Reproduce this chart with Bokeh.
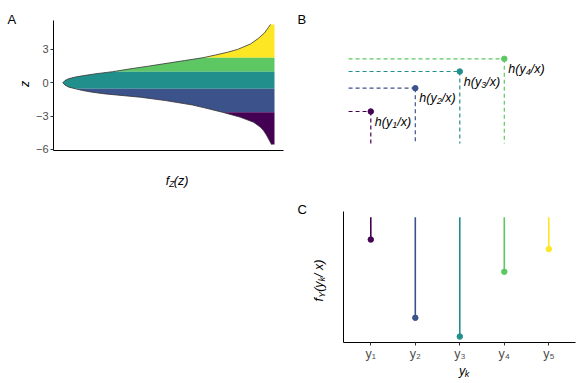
from bokeh.plotting import figure
from bokeh.layouts import column, row
from bokeh.models import Range1d, FixedTicker, ColumnDataSource, Spacer
from bokeh.embed import file_html
from bokeh.resources import INLINE
from bokeh.core.properties import value

FONT = "Liberation Sans"

# ---------------- data ----------------
# Panel A: latent density f_Z(z) (z, relative density)
z_vals = [5.25, 5.0, 4.5, 4.0, 3.5, 3.0, 2.75, 2.5, 2.25, 2.0, 1.71, 1.5, 1.26, 1.0,
          0.8, 0.63, 0.5, 0.36, 0.2, 0.0, -0.2, -0.39, -0.54, -0.69, -0.85, -1.0,
          -1.3, -1.6, -2.0, -2.25, -2.65, -3.1, -3.55, -4.0, -4.3, -4.7, -5.06, -5.3, -5.56]
dens = [0.019, 0.028, 0.047, 0.076, 0.113, 0.175, 0.222, 0.279, 0.340, 0.425, 0.524,
        0.595, 0.680, 0.765, 0.850, 0.907, 0.945, 0.973, 0.990, 1.000, 0.990, 0.971,
        0.940, 0.907, 0.860, 0.799, 0.633, 0.515, 0.387, 0.331, 0.246, 0.161, 0.099,
        0.066, 0.052, 0.038, 0.028, 0.021, 0.014]
cuts = [2.25, 1.0, -0.54, -2.65]
band_colors = ["#FDE725", "#5DC863", "#21908C", "#3B528B", "#440154"]
a_ticks = [-6, -3, 0, 3]

# Panel B: cumulative h(y_k / x)
b_k = [1, 2, 3, 4]
b_h = [0.32, 0.553, 0.72, 0.847]
b_sub = ["1", "2", "3", "4"]
b_colors = ["#440154", "#3B528B", "#21908C", "#5DC863"]

# Panel C: category probabilities f_Y(y_k / x)
c_k = [1, 2, 3, 4, 5]
c_p = [0.068, 0.306, 0.363, 0.166, 0.097]
c_ticklabels = ["y\u2081", "y\u2082", "y\u2083", "y\u2084", "y\u2085"]
c_colors = ["#440154", "#3B528B", "#21908C", "#5DC863", "#FDE725"]

ROT = 1.5708
MAIN = 12.5
SUB = 9


def style(p):
    p.grid.visible = False
    p.outline_line_color = None
    p.background_fill_color = "white"
    p.border_fill_color = "white"


def axis_style(ax, size="11px"):
    ax.axis_line_color = "black"
    ax.axis_line_width = 1
    ax.major_tick_line_color = "#333333"
    ax.major_tick_out = 3
    ax.major_tick_in = 0
    ax.minor_tick_line_color = None
    ax.major_label_text_color = "#4D4D4D"
    ax.major_label_text_font = FONT
    ax.major_label_text_font_size = size
    ax.major_label_standoff = 2


def strip(x0, y0, w, h):
    """A text-only panel whose data units are page pixels (y down)."""
    s = figure(width=w, height=h, output_backend="svg", toolbar_location=None, title=None,
               x_range=Range1d(x0, x0 + w), y_range=Range1d(y0 + h, y0),
               x_axis_type=None, y_axis_type=None, min_border=0)
    style(s)
    return s


def txt(p, x, y, t, size, italic=False, angle=0.0, align="left", baseline="alphabetic"):
    p.text(x=[x], y=[y], text=[t], text_font=value(FONT), text_font_size=f"{size}px",
           text_font_style="italic" if italic else "normal", angle=angle,
           text_align=align, text_baseline=baseline, text_color="black")


# ---------------- Panel A ----------------
pA = figure(width=260, height=170, output_backend="svg", toolbar_location=None,
            title=None, x_range=Range1d(1.0439, -0.0425), y_range=Range1d(-6.093, 5.607),
            min_border_left=23, min_border_right=7, min_border_top=20, min_border_bottom=20)
style(pA)
edges = [max(z_vals) + 1] + cuts + [min(z_vals) - 1]
for i, col in enumerate(band_colors):
    hi, lo = edges[i], edges[i + 1]
    idx = [j for j, z in enumerate(z_vals) if lo <= z <= hi]
    zz = [z_vals[j] for j in idx]
    ff = [dens[j] for j in idx]
    pA.harea(y=zz, x1=ff, x2=[0] * len(zz), fill_color=col)
pA.line(x=dens, y=z_vals, line_color="#333333", line_width=0.8)
for ax in pA.yaxis:
    axis_style(ax)
    ax.ticker = FixedTicker(ticks=a_ticks)
    ax.major_label_overrides = {t: (str(t) if t >= 0 else "\u2212" + str(-t)) for t in a_ticks}
for ax in pA.xaxis:
    axis_style(ax)
    ax.ticker = FixedTicker(ticks=[])

sA_left = strip(0, 0, 30, 190)
txt(sA_left, 7, 18.5, "A", 13)
txt(sA_left, 24, 86.5, "z", MAIN, italic=True, angle=ROT)

sA_bot = strip(30, 170, 260, 20)
txt(sA_bot, 157, 180.2, "f", MAIN, italic=True)
txt(sA_bot, 160.5, 183, "Z", SUB, italic=True)
txt(sA_bot, 166, 180.2, "(z)", MAIN, italic=True)

# ---------------- Panel B ----------------
bx0, bdx = 325.8, 44.5   # page x of k=0, pixels per category
by0, bdy = 143.0, 100.0  # page y of h=0, pixels per unit
pB = figure(width=291, height=190, output_backend="svg", toolbar_location=None,
            title=None,
            x_range=Range1d((290 - bx0) / bdx, (581 - bx0) / bdx),
            y_range=Range1d((by0 - 190) / bdy, (by0 - 0) / bdy),
            x_axis_type=None, y_axis_type=None, min_border=0)
style(pB)
srcB = ColumnDataSource(dict(k=b_k, h=b_h, sub=b_sub, col=b_colors,
                             pre=["h(y"] * len(b_k), post=["/x)"] * len(b_k),
                             k0=[0.5] * len(b_k), h0=[0] * len(b_k)))
pB.segment(x0="k0", y0="h", x1="k", y1="h", source=srcB, line_color="col",
           line_width=1.2, line_dash="4 3")
pB.segment(x0="k", y0="h", x1="k", y1="h0", source=srcB, line_color="col",
           line_width=1.2, line_dash="4 3")
pB.scatter(x="k", y="h", source=srcB, size=5.5, fill_color="col", line_color="col")
w_pre = (0.556 + 0.333 + 0.5) * MAIN
w_sub = 0.556 * SUB
for field, size, dx, dy in (("pre", MAIN, 4, 10), ("sub", SUB, 4 + w_pre, 13),
                            ("post", MAIN, 4 + w_pre + w_sub, 10)):
    pB.text(x="k", y="h", text=field, source=srcB, text_font=value(FONT),
            text_font_style="italic", text_font_size=f"{size}px",
            text_baseline="alphabetic", x_offset=dx, y_offset=dy, text_color="black")
txt(pB, (297 - bx0) / bdx, (by0 - 18.5) / bdy, "B", 13)

# ---------------- Panel C ----------------
pC = figure(width=251, height=175, output_backend="svg", toolbar_location=None,
            title=None, x_range=Range1d(0.3865, 5.600), y_range=Range1d(0.3811, -0.01734),
            min_border_left=13, min_border_right=6, min_border_top=21, min_border_bottom=23)
style(pC)
srcC = ColumnDataSource(dict(k=c_k, p=c_p, col=c_colors, z=[0] * len(c_k)))
pC.segment(x0="k", y0="z", x1="k", y1="p", source=srcC, line_color="col", line_width=1.6)
pC.scatter(x="k", y="p", source=srcC, size=5.5, fill_color="col", line_color="col")
for ax in pC.xaxis:
    axis_style(ax, size="12.5px")
    ax.ticker = FixedTicker(ticks=c_k)
    ax.major_label_overrides = {k: t for k, t in zip(c_k, c_ticklabels)}
    ax.major_label_standoff = 1
for ax in pC.yaxis:
    axis_style(ax)
    ax.ticker = FixedTicker(ticks=[])

sC_left = strip(290, 190, 40, 193)
txt(sC_left, 297, 209.3, "C", 13)
txt(sC_left, 318.5, 301, "f", MAIN, italic=True, angle=ROT)
txt(sC_left, 321.5, 297.3, "Y", SUB, italic=True, angle=ROT)
txt(sC_left, 318.5, 291.3, "(y", MAIN, italic=True, angle=ROT)
txt(sC_left, 321.5, 280.9, "k", SUB, italic=True, angle=ROT)
txt(sC_left, 318.5, 276.4, " / x)", MAIN, italic=True, angle=ROT)

sC_bot = strip(330, 365, 251, 18)
txt(sC_bot, 455, 370.5, "y", MAIN, italic=True)
txt(sC_bot, 461.3, 373.2, "k", SUB, italic=True)

blockA = row(sA_left, column(pA, sA_bot))
blockC = row(sC_left, column(pC, sC_bot))
layout = row(column(blockA, Spacer(width=290, height=193)), column(pB, blockC))

open("out.html", "w").write(file_html(layout, INLINE))
